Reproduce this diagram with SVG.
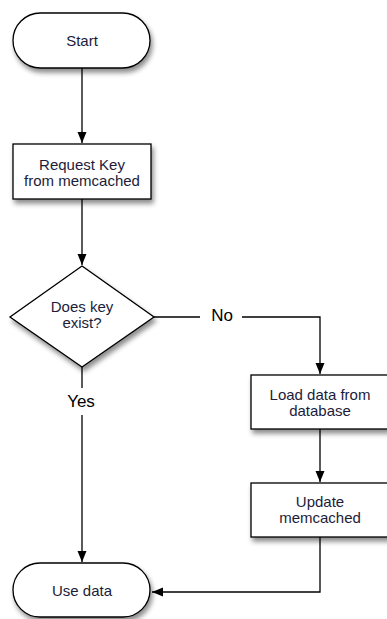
<svg xmlns="http://www.w3.org/2000/svg" width="387" height="619" viewBox="0 0 387 619">
<defs>
<filter id="sh" x="-20%" y="-20%" width="150%" height="160%">
<feDropShadow dx="2" dy="4" stdDeviation="2.5" flood-color="#000" flood-opacity="0.45"/>
</filter>
<marker id="ah" markerWidth="12" markerHeight="12" refX="11" refY="5.5" orient="auto" markerUnits="userSpaceOnUse">
<path d="M0,1 L11,5.5 L0,10 Z" fill="#000"/>
</marker>
<style>
.n{fill:#fff;stroke:#000;stroke-width:1.3;filter:url(#sh)}
.t{font-family:"Liberation Sans",Arial,sans-serif;font-size:15px;fill:#1c1c3a;text-anchor:middle}
.l{font-family:"Liberation Sans",Arial,sans-serif;font-size:17px;fill:#000;text-anchor:middle}
.c{fill:none;stroke:#000;stroke-width:1.3}
</style>
</defs>
<rect width="387" height="619" fill="#fff"/>
<g id="connectors">
<line class="c" x1="82" y1="68" x2="82" y2="143" marker-end="url(#ah)"/>
<line class="c" x1="82" y1="199" x2="82" y2="265" marker-end="url(#ah)"/>
<line class="c" x1="154" y1="317" x2="200" y2="317"/>
<polyline class="c" points="242,317 320,317 320,374" marker-end="url(#ah)"/>
<line class="c" x1="82" y1="367" x2="82" y2="388"/>
<line class="c" x1="82" y1="415" x2="82" y2="562" marker-end="url(#ah)"/>
<line class="c" x1="320" y1="429" x2="320" y2="482" marker-end="url(#ah)"/>
<polyline class="c" points="320,537 320,592 152,592" marker-end="url(#ah)"/>
<text class="l" x="222" y="321">No</text>
<text class="l" x="81" y="407">Yes</text>
</g>
<g id="start">
<rect class="n" x="13" y="13" width="137" height="55" rx="27.5"/>
<text class="t" x="82" y="46">Start</text>
</g>
<g id="request">
<rect class="n" x="13" y="144" width="138" height="55"/>
<text class="t" x="82" y="170">Request Key</text>
<text class="t" x="82" y="186">from memcached</text>
</g>
<g id="decision">
<polygon class="n" points="82,266 154,317 82,367 10,317"/>
<text class="t" x="82" y="312">Does key</text>
<text class="t" x="82" y="328">exist?</text>
</g>
<g id="load">
<rect class="n" x="251" y="375" width="138" height="54"/>
<text class="t" x="320" y="400">Load data from</text>
<text class="t" x="320" y="416">database</text>
</g>
<g id="update">
<rect class="n" x="251" y="483" width="138" height="54"/>
<text class="t" x="320" y="507">Update</text>
<text class="t" x="320" y="523">memcached</text>
</g>
<g id="use">
<rect class="n" x="13" y="563" width="137" height="54" rx="27"/>
<text class="t" x="82" y="596">Use data</text>
</g>
</svg>
